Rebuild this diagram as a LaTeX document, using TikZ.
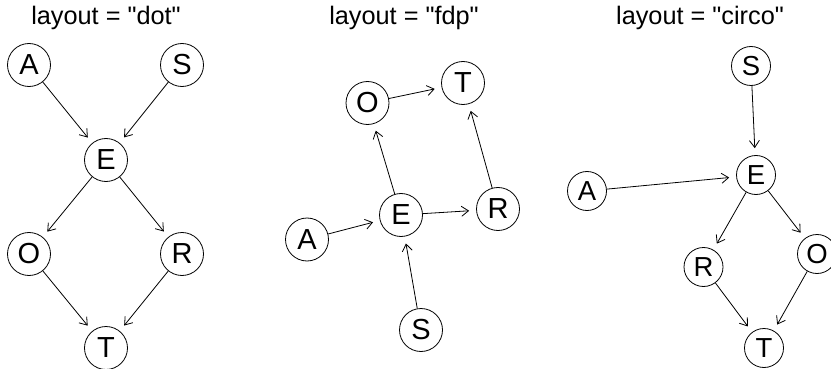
\documentclass[tikz,border=0pt]{standalone}
\usepackage{fontspec}
\setmainfont{Liberation Sans}[Ligatures=TeXOff]
\usetikzlibrary{arrows.meta}
\begin{document}
\begin{tikzpicture}[x=1pt,y=-1pt,
  vtx/.style={draw, circle, line width=0.8pt, minimum size=43pt, inner sep=0pt,
    font=\fontsize{29}{30}\selectfont},
  cvtx/.style={vtx, minimum size=39pt, font=\fontsize{27.5}{28}\selectfont},
  edge/.style={line width=0.8pt, -{Straight Barb[length=7pt,width=10pt]}, shorten >=7pt},
  ttl/.style={anchor=base, font=\fontsize{25.3}{30}\selectfont}]
\useasboundingbox (0,0) rectangle (831,369);

% dot layout
\node[ttl] (t1) at (106,25) {layout = "dot"};
\node[vtx] (dA) at (29,65) {A};
\node[vtx] (dS) at (182,65) {S};
\node[vtx] (dE) at (106,160) {E};
\node[vtx] (dO) at (29,254) {O};
\node[vtx] (dR) at (182,254) {R};
\node[vtx] (dT) at (106,348) {T};
\draw[edge] (dA) -- (dE);
\draw[edge] (dS) -- (dE);
\draw[edge] (dE) -- (dO);
\draw[edge] (dE) -- (dR);
\draw[edge] (dO) -- (dT);
\draw[edge] (dR) -- (dT);

% fdp layout
\node[ttl] (t2) at (404,25) {layout = "fdp"};
\node[vtx] (fO) at (367.5,103) {O};
\node[vtx] (fT) at (463,83) {T};
\node[vtx] (fA) at (307,239.5) {A};
\node[vtx] (fE) at (401,215) {E};
\node[vtx] (fR) at (498,209) {R};
\node[vtx] (fS) at (421,330) {S};
\draw[edge] (fO) -- (fT);
\draw[edge] (fE) -- (fO);
\draw[edge] (fR) -- (fT);
\draw[edge] (fA) -- (fE);
\draw[edge] (fE) -- (fR);
\draw[edge] (fS) -- (fE);

% circo layout
\node[ttl] (t3) at (700,25) {layout = "circo"};
\node[cvtx] (cS) at (751,66) {S};
\node[cvtx] (cE) at (756,175) {E};
\node[cvtx] (cA) at (587,191) {A};
\node[cvtx] (cR) at (703.5,267) {R};
\node[cvtx] (cO) at (817,254) {O};
\node[cvtx] (cT) at (764,348) {T};
\draw[edge] (cS) -- (cE);
\draw[edge] (cA) -- (cE);
\draw[edge] (cE) -- (cR);
\draw[edge] (cE) -- (cO);
\draw[edge] (cR) -- (cT);
\draw[edge] (cO) -- (cT);
\end{tikzpicture}
\end{document}
